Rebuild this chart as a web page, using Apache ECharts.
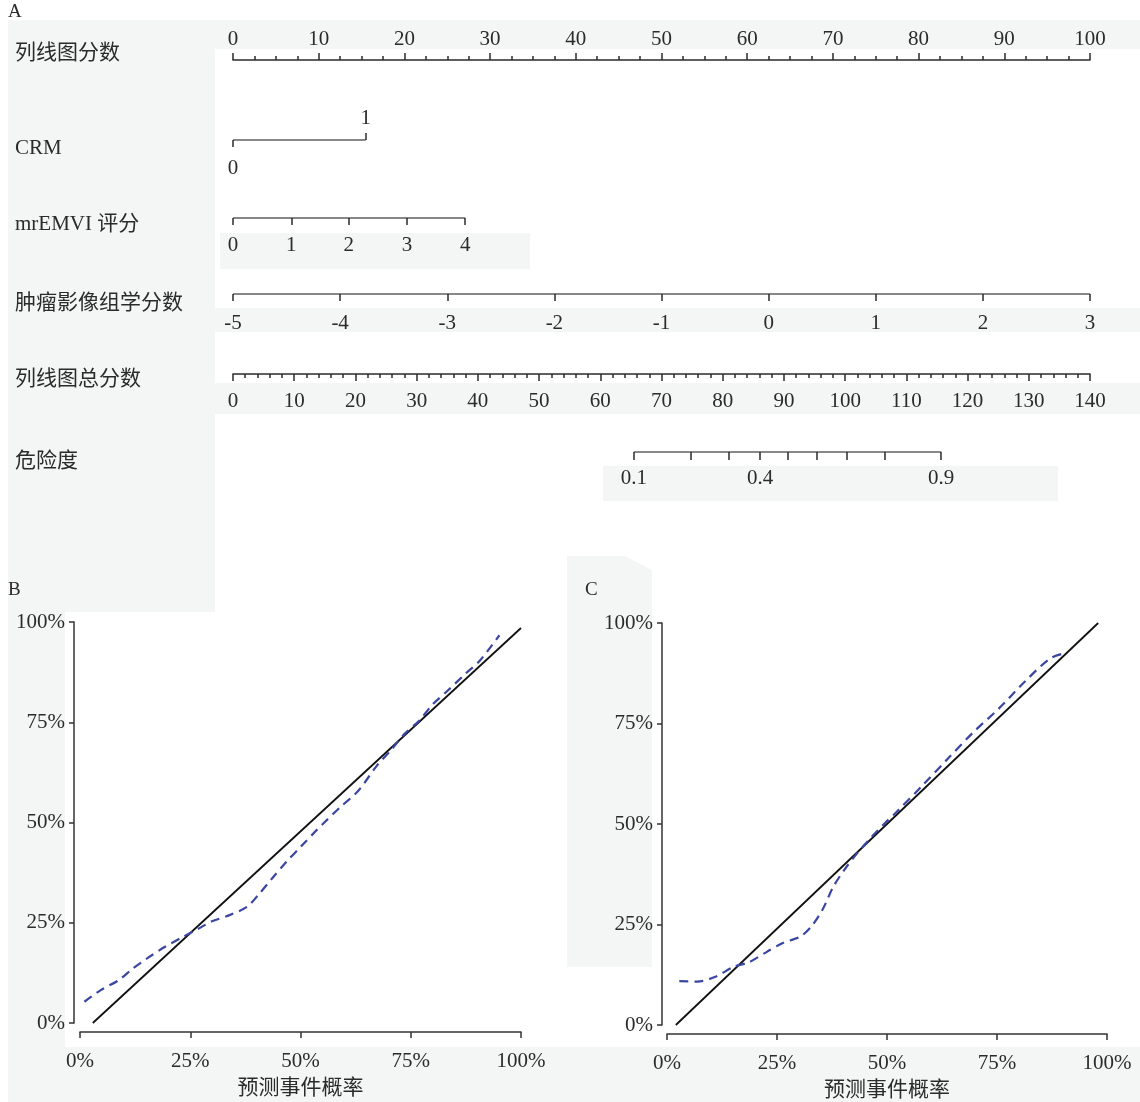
<!DOCTYPE html>
<html>
<head>
<meta charset="utf-8">
<title>列线图与校准曲线</title>
<script src="https://cdn.jsdelivr.net/npm/echarts@6/dist/echarts.min.js"></script>
<style>
  html, body { margin: 0; padding: 0; background: #fff; }
  #chart { width: 1140px; height: 1102px; }
</style>
</head>
<body>
<div id="chart"></div>
<script>
// ---- 数据 ----
// 列线图：各变量取值及对应得分（0~100 分）
const crmValues = [0, 1];
const crmPoints = [0, 15.5];
const emviValues = [0, 1, 2, 3, 4];
const emviPoints = [0, 6.8, 13.5, 20.3, 27.1];
const radValues = [-5, -4, -3, -2, -1, 0, 1, 2, 3];
const radPoints = [0, 12.5, 25, 37.5, 50, 62.5, 75, 87.5, 100];
// 危险度刻度在总分轴（0~140）上的位置
const riskValues = [0.1, 0.2, 0.3, 0.4, 0.5, 0.6, 0.7, 0.8, 0.9];
const riskTotals = [65.5, 74.8, 81.0, 86.1, 90.7, 95.4, 100.3, 106.4, 115.7];
const riskShown = [0.1, 0.4, 0.9];
const rowNames = ['列线图分数', 'CRM', 'mrEMVI 评分', '肿瘤影像组学分数', '列线图总分数', '危险度'];

// 校准曲线 B
const calBPred = [0.010, 0.047, 0.088, 0.120, 0.152, 0.193, 0.234, 0.270, 0.298, 0.339, 0.379, 0.404, 0.436, 0.469, 0.501, 0.534, 0.554, 0.590, 0.631, 0.672, 0.704, 0.736, 0.769, 0.801, 0.834, 0.874, 0.907, 0.951];
const calBObs = [0.053, 0.082, 0.107, 0.136, 0.161, 0.190, 0.215, 0.236, 0.253, 0.269, 0.290, 0.319, 0.361, 0.403, 0.440, 0.478, 0.500, 0.538, 0.579, 0.640, 0.679, 0.721, 0.754, 0.796, 0.829, 0.871, 0.904, 0.967];
const idealBPred = [0.029, 1.0];
const idealBObs = [0, 0.985];

// 校准曲线 C
const calCPred = [0.028, 0.069, 0.110, 0.152, 0.186, 0.227, 0.261, 0.303, 0.328, 0.353, 0.378, 0.403, 0.432, 0.462, 0.495, 0.520, 0.579, 0.637, 0.696, 0.754, 0.813, 0.871, 0.905];
const calCObs = [0.109, 0.108, 0.120, 0.145, 0.156, 0.182, 0.203, 0.220, 0.245, 0.286, 0.344, 0.386, 0.427, 0.464, 0.502, 0.528, 0.594, 0.661, 0.728, 0.787, 0.854, 0.912, 0.925];
const idealCPred = [0.02, 0.98];
const idealCObs = [0, 1.0];

// ---- 样式 ----
const FONT = "'Liberation Serif','Noto Sans CJK SC',serif";
const INK = '#2b2b2b';
const PATCH = '#f3f6f5';
const NOMO_LEFT = 233;
const NOMO_RIGHT = 50;
const rowY = [60, 140, 218, 294, 374, 452];
const rowLabelY = [52, 147, 223, 302, 378, 460];

const labelStyle = { color: INK, fontSize: 21, fontFamily: FONT };
const lineStyle = { color: INK, width: 1.5 };

function lookup(values, points) {
  return (v) => {
    const i = points.indexOf(v);
    return i < 0 ? '' : String(values[i]);
  };
}

// 单行列线图的 x 轴
function nomoAxis(gridIndex, max, extra) {
  return Object.assign({
    type: 'value',
    gridIndex,
    min: 0,
    max,
    position: 'bottom',
    axisLine: { show: false, onZero: false, lineStyle },
    splitLine: { show: false },
  }, extra);
}

function baseLine(gridIndex, xAxisIndex, points) {
  return {
    type: 'line',
    xAxisIndex,
    yAxisIndex: gridIndex,
    data: [[points[0], 0], [points[points.length - 1], 0]],
    symbol: 'none',
    silent: true,
    lineStyle,
    z: 3,
  };
}

const chart = echarts.init(document.getElementById('chart'));

const grids = rowY.map((y) => ({ left: NOMO_LEFT, right: NOMO_RIGHT, top: y, height: 0 }));
grids.push({ left: 80, top: 622, width: 441, height: 401 });
grids.push({ left: 667, top: 623, width: 440, height: 402 });

const xAxes = [
  // 0 列线图分数
  nomoAxis(0, 100, {
    position: 'top',
    interval: 10,
    axisLine: { show: true, onZero: false, lineStyle },
    axisTick: { length: 7, lineStyle },
    minorTick: { show: true, splitNumber: 4, length: 4, lineStyle },
    axisLabel: Object.assign({ margin: 10 }, labelStyle),
  }),
  // 1 CRM 下侧 (0)
  nomoAxis(1, 100, {
    axisTick: { length: 7, lineStyle, customValues: [crmPoints[0]] },
    axisLabel: Object.assign({ margin: 18, customValues: [crmPoints[0]], formatter: lookup(crmValues, crmPoints) }, labelStyle),
  }),
  // 2 CRM 上侧 (1)
  nomoAxis(1, 100, {
    position: 'top',
    axisTick: { length: 7, lineStyle, customValues: [crmPoints[1]] },
    axisLabel: Object.assign({ margin: 11, customValues: [crmPoints[1]], formatter: lookup(crmValues, crmPoints) }, labelStyle),
  }),
  // 3 mrEMVI 评分
  nomoAxis(2, 100, {
    axisTick: { length: 7, lineStyle, customValues: emviPoints },
    axisLabel: Object.assign({ margin: 17, customValues: emviPoints, formatter: lookup(emviValues, emviPoints) }, labelStyle),
  }),
  // 4 肿瘤影像组学分数
  nomoAxis(3, 100, {
    axisTick: { length: 7, lineStyle, customValues: radPoints },
    axisLabel: Object.assign({ margin: 19, customValues: radPoints, formatter: lookup(radValues, radPoints) }, labelStyle),
  }),
  // 5 列线图总分数
  nomoAxis(4, 140, {
    interval: 10,
    axisLine: { show: true, onZero: false, lineStyle },
    axisTick: { length: 7, lineStyle },
    minorTick: { show: true, splitNumber: 5, length: 4, lineStyle },
    axisLabel: Object.assign({ margin: 17 }, labelStyle),
  }),
  // 6 危险度
  nomoAxis(5, 140, {
    axisTick: { length: 8, lineStyle, customValues: riskTotals },
    axisLabel: Object.assign({
      margin: 16,
      customValues: riskShown.map((r) => riskTotals[riskValues.indexOf(r)]),
      formatter: lookup(riskValues, riskTotals),
    }, labelStyle),
  }),
];

const yAxes = rowY.map((_, i) => ({ type: 'value', gridIndex: i, min: 0, max: 1, show: false }));

// 校准曲线坐标轴
function calAxes(gridIndex, xOffset, yOffset) {
  const pct = (v) => Math.round(v * 100) + '%';
  const axisCommon = {
    type: 'value',
    gridIndex,
    min: 0,
    max: 1,
    interval: 0.25,
    splitLine: { show: false },
    axisLine: { show: true, onZero: false, lineStyle: { color: '#333', width: 1.5 } },
  };
  return {
    x: Object.assign({}, axisCommon, {
      offset: xOffset,
      axisTick: { length: 6, lineStyle: { color: '#333', width: 1.5 } },
      axisLabel: Object.assign({ margin: 19, formatter: pct }, labelStyle),
      name: '预测事件概率',
      nameLocation: 'middle',
      nameGap: 46,
      nameTextStyle: labelStyle,
    }),
    y: Object.assign({}, axisCommon, {
      offset: yOffset,
      axisTick: { length: 5, lineStyle: { color: '#333', width: 1.5 } },
      axisLabel: Object.assign({ margin: 9, formatter: pct }, labelStyle),
    }),
  };
}
const axB = calAxes(6, 9, 6);
const axC = calAxes(7, 9, 5);
xAxes.push(axB.x, axC.x);
yAxes.push(axB.y, axC.y);
const xIdxB = xAxes.length - 2, xIdxC = xAxes.length - 1;
const yIdxB = yAxes.length - 2, yIdxC = yAxes.length - 1;

function zip(a, b) {
  return a.map((v, i) => [v, b[i]]);
}

function calSeries(xIdx, yIdx, pred, obs, idealPred, idealObs) {
  return [
    {
      type: 'line',
      xAxisIndex: xIdx,
      yAxisIndex: yIdx,
      data: zip(idealPred, idealObs),
      symbol: 'none',
      silent: true,
      lineStyle: { color: '#111', width: 1.8 },
    },
    {
      type: 'line',
      xAxisIndex: xIdx,
      yAxisIndex: yIdx,
      data: zip(pred, obs),
      symbol: 'none',
      smooth: 0.3,
      silent: true,
      lineStyle: { color: '#3a46a4', width: 2.2, type: [9, 6] },
    },
  ];
}

const series = [
  baseLine(1, 1, crmPoints),
  baseLine(2, 3, emviPoints),
  baseLine(3, 4, radPoints),
  baseLine(5, 6, riskTotals),
].concat(
  calSeries(xIdxB, yIdxB, calBPred, calBObs, idealBPred, idealBObs),
  calSeries(xIdxC, yIdxC, calCPred, calCObs, idealCPred, idealCObs)
);

// 背景灰块（原图扫描底色）
const patches = [
  { shape: { x: 8, y: 20, width: 1132, height: 29 } },
  { shape: { x: 8, y: 20, width: 207, height: 592 } },
  { shape: { x: 8, y: 610, width: 57, height: 492 } },
  { shape: { x: 8, y: 1047, width: 1132, height: 55 } },
  { shape: { x: 220, y: 233, width: 310, height: 36 } },
  { shape: { x: 215, y: 308, width: 925, height: 24 } },
  { shape: { x: 215, y: 383, width: 925, height: 31 } },
  { shape: { x: 603, y: 466, width: 455, height: 35 } },
].map((p) => Object.assign({ type: 'rect', z: -10, silent: true, style: { fill: PATCH } }, p));
patches.push({
  type: 'polygon', z: -10, silent: true,
  shape: { points: [[567, 556], [625, 556], [652, 570], [652, 967], [567, 967]] },
  style: { fill: PATCH },
});

const texts = rowNames.map((name, i) => ({
  type: 'text',
  left: 15,
  top: rowLabelY[i] - 9,
  style: { text: name, fill: INK, font: `21px ${FONT}` },
}));
[['A', 8, 3], ['B', 8, 581], ['C', 585, 581]].forEach(([t, x, y]) => {
  texts.push({ type: 'text', left: x, top: y, style: { text: t, fill: INK, font: `19px ${FONT}` } });
});

chart.setOption({
  backgroundColor: '#fff',
  animation: false,
  grid: grids,
  xAxis: xAxes,
  yAxis: yAxes,
  series,
  graphic: { elements: patches.concat(texts) },
});
</script>
</body>
</html>
